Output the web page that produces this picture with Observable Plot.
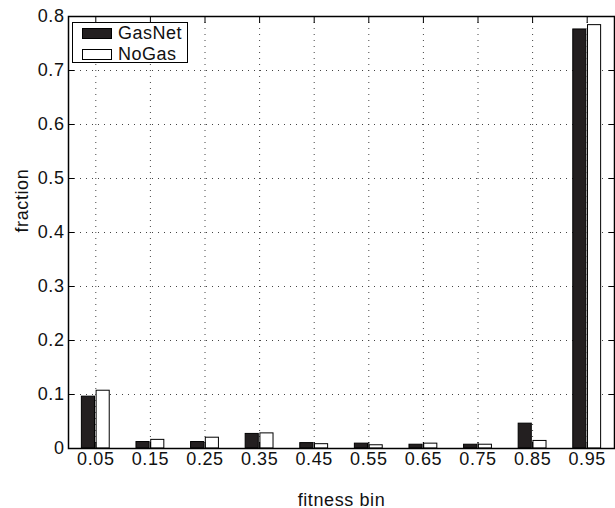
<!DOCTYPE html>
<html>
<head>
<meta charset="utf-8">
<script src="https://cdn.jsdelivr.net/npm/d3@7"></script>
<script src="https://cdn.jsdelivr.net/npm/@observablehq/plot@0.6"></script>
<style>
  body { margin: 0; background: #fff; }
  #chart { position: relative; width: 615px; height: 508px; font-family: "Liberation Sans", Arial, Helvetica, sans-serif; }
  #chart svg { display: block; }
  #chart svg text { letter-spacing: 0.6px; }
  .legend { position: absolute; left: 72px; top: 22px; width: 116px; height: 41px; border: 1.5px solid #000; background: #fff; box-sizing: border-box; }
  .legend .row { position: absolute; left: 9px; height: 12px; display: flex; align-items: center; font-size: 18px; letter-spacing: 0.5px; color: #111; white-space: nowrap; }
  .legend .sw { width: 30px; height: 11px; box-sizing: border-box; border: 1px solid #000; margin-right: 6px; }
</style>
</head>
<body>
<div id="chart"></div>
<script>
// Fitness bin centres and the fraction of runs falling in each bin
const bins = [0.05, 0.15, 0.25, 0.35, 0.45, 0.55, 0.65, 0.75, 0.85, 0.95];
const gasNet = [0.096, 0.012, 0.012, 0.027, 0.010, 0.009, 0.007, 0.007, 0.046, 0.776];
const noGas  = [0.107, 0.016, 0.020, 0.028, 0.008, 0.006, 0.009, 0.007, 0.014, 0.784];
const yTicks = [0, 0.1, 0.2, 0.3, 0.4, 0.5, 0.6, 0.7, 0.8];
const seriesNames = ["GasNet", "NoGas"];
const seriesFill = {GasNet: "#231f20", NoGas: "#ffffff"};

const rows = bins.flatMap((b, i) => [
  {bin: b, series: seriesNames[0], value: gasNet[i]},
  {bin: b, series: seriesNames[1], value: noGas[i]}
]);

// grouped bars: two bars side by side around each bin centre
const barW = 0.024, gap = 0.003;
const left = d => d.series === "GasNet" ? d.bin - gap / 2 - barW : d.bin + gap / 2;

const fmtY = d => d === 0 ? "0" : d3.format(".1f")(d);
const fmtX = d3.format(".2f");

const chart = Plot.plot({
  width: 615,
  height: 508,
  marginLeft: 68,
  marginRight: 1,
  marginTop: 16,
  marginBottom: 60,
  style: {fontFamily: "'Liberation Sans', Arial, Helvetica, sans-serif", fontSize: "18px", color: "#111", background: "#fff"},
  x: {domain: [0, 1], axis: null},
  y: {domain: [0, 0.8], axis: null},
  marks: [
    Plot.gridX(bins, {stroke: "#444", strokeOpacity: 1, strokeDasharray: "1,5"}),
    Plot.gridY(yTicks.slice(1, -1), {stroke: "#444", strokeOpacity: 1, strokeDasharray: "1,5"}),
    Plot.rectY(rows, {
      x1: left,
      x2: d => left(d) + barW,
      y1: 0,
      y2: "value",
      fill: d => seriesFill[d.series],
      stroke: "#000",
      strokeWidth: 1
    }),
    // inward ticks on all four sides
    Plot.axisX(bins, {anchor: "bottom", tickSize: -6, tickFormat: () => "", label: null, stroke: "#000"}),
    Plot.axisX(bins, {anchor: "top", tickSize: -6, tickFormat: () => "", label: null, stroke: "#000"}),
    Plot.axisY(yTicks, {anchor: "left", tickSize: -6, tickFormat: () => "", label: null, stroke: "#000"}),
    Plot.axisY(yTicks, {anchor: "right", tickSize: -6, tickFormat: () => "", label: null, stroke: "#000"}),
    // tick labels
    Plot.axisX(bins, {anchor: "bottom", tickSize: 0, tickPadding: 4, tickFormat: fmtX, label: null, fontSize: 18, fill: "#111"}),
    Plot.axisY(yTicks, {anchor: "left", tickSize: 0, tickPadding: 4, tickFormat: fmtY, label: null, fontSize: 18, fill: "#111"}),
    Plot.frame({stroke: "#000", strokeWidth: 1.5}),
    Plot.text(["fitness bin"], {frameAnchor: "bottom", dy: 57, lineAnchor: "bottom", fontSize: 18, fill: "#111"}),
    Plot.text(["fraction"], {frameAnchor: "left", dx: -41, rotate: -90, lineAnchor: "bottom", fontSize: 18, fill: "#111"})
  ]
});

const host = document.getElementById("chart");
host.appendChild(chart);

// legend box in the upper-left corner of the plot area
const legend = document.createElement("div");
legend.className = "legend";
seriesNames.forEach((name, i) => {
  const row = document.createElement("div");
  row.className = "row";
  row.style.top = (4 + i * 21) + "px";
  const sw = document.createElement("span");
  sw.className = "sw";
  sw.style.background = seriesFill[name];
  const label = document.createElement("span");
  label.textContent = name;
  row.appendChild(sw);
  row.appendChild(label);
  legend.appendChild(row);
});
host.appendChild(legend);
</script>
</body>
</html>
